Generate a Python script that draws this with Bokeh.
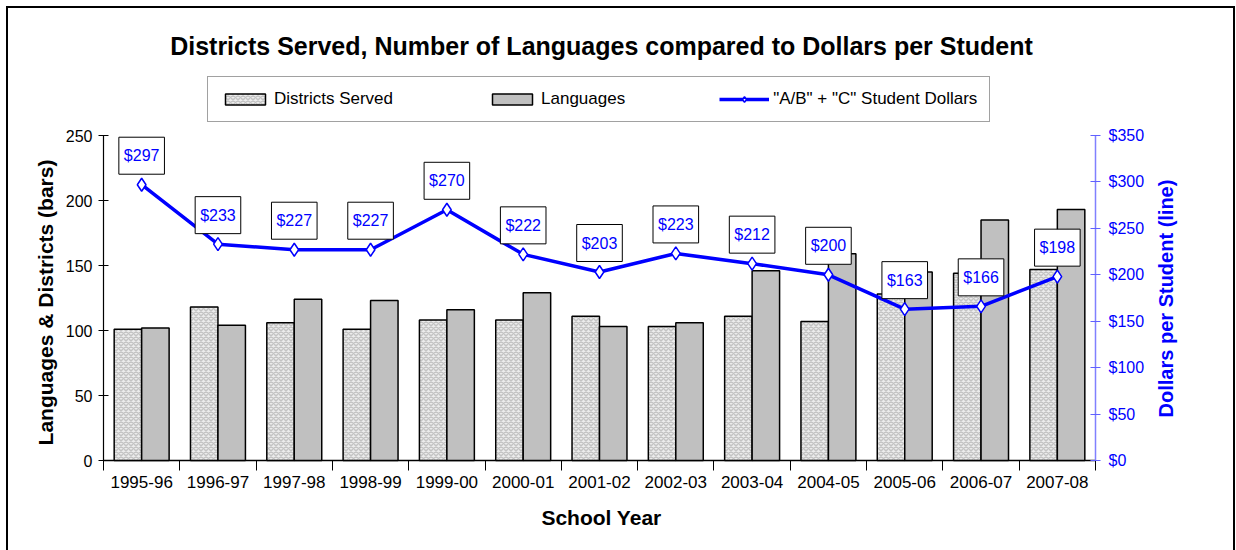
import math
import numpy as np
from bokeh.plotting import figure
from bokeh.models import (Range1d, LinearAxis, FixedTicker, ColumnDataSource, Legend,
                          LegendItem, Label, NumeralTickFormatter)
from bokeh.transform import dodge
from bokeh.embed import file_html
from bokeh.resources import INLINE

years = ["1995-96", "1996-97", "1997-98", "1998-99", "1999-00", "2000-01", "2001-02",
         "2002-03", "2003-04", "2004-05", "2005-06", "2006-07", "2007-08"]
districts = [101, 118, 106, 101, 108, 108, 111, 103, 111, 107, 128, 144, 147]
languages = [102, 104, 124, 123, 116, 129, 103, 106, 146, 159, 145, 185, 193]
dollars = [297, 233, 227, 227, 270, 222, 203, 223, 212, 200, 163, 166, 198]

left_ticks = [0, 50, 100, 150, 200, 250]
right_ticks = [0, 50, 100, 150, 200, 250, 300, 350]

FONT = "Liberation Sans"
BLUE = "#0000ff"
EM = "\u2003"

# geometry (pixels): the frame runs from the canvas top down to a little below
# the zero line and past the right value axis; the value axes occupy AXIS_PX
TOP_PX = 452      # from zero line to frame top
PAD_PX = 10       # frame below the zero line
AXIS_PX = 325
FRAME_W = 1080
AXIS_W = 992

n = len(years)
xpos = np.arange(n)
src = ColumnDataSource(dict(x=xpos, districts=districts, languages=languages, dollars=dollars))

p = figure(frame_width=FRAME_W, frame_height=TOP_PX + PAD_PX,
           x_range=Range1d(-0.5, -0.5 + n * FRAME_W / AXIS_W),
           y_range=Range1d(-left_ticks[-1] * PAD_PX / AXIS_PX, left_ticks[-1] * TOP_PX / AXIS_PX),
           output_backend="svg", toolbar_location=None,
           x_axis_location=None, y_axis_location=None,
           min_border_left=95, min_border_right=50, min_border_top=0, min_border_bottom=80,
           background_fill_color="white", border_fill_color="white", outline_line_color=None)
p.styles = {"border": "2px solid black", "border-bottom": "none",
            "margin-left": "6px", "margin-top": "6px"}
p.xgrid.visible = False
p.ygrid.visible = False
p.extra_y_ranges = {"dollars": Range1d(-right_ticks[-1] * PAD_PX / AXIS_PX,
                                       right_ticks[-1] * TOP_PX / AXIS_PX)}

# left axis (label padded with trailing em spaces so that it centres on the value axis part)
yl = LinearAxis(ticker=FixedTicker(ticks=left_ticks),
                axis_label="Languages & Districts (bars)" + EM * 6,
                bounds=(left_ticks[0], left_ticks[-1]))
yl.axis_line_color = "black"
yl.axis_line_width = 1.2
yl.major_tick_in = 5
yl.major_tick_out = 5
yl.major_tick_line_color = "black"
yl.minor_tick_line_color = None
yl.major_label_standoff = 6
yl.major_label_text_font = FONT
yl.major_label_text_font_size = "16px"
yl.major_label_text_color = "black"
yl.axis_label_text_font = FONT
yl.axis_label_text_font_style = "bold"
yl.axis_label_text_font_size = "21px"
yl.axis_label_text_color = "black"
yl.axis_label_standoff = 6
p.add_layout(yl, "left")

# right axis, pinned at the right edge of the last category
yr = LinearAxis(y_range_name="dollars", ticker=FixedTicker(ticks=right_ticks),
                formatter=NumeralTickFormatter(format="$0"),
                bounds=(right_ticks[0], right_ticks[-1]), fixed_location=n - 0.5)
yr.axis_line_color = "#8080ff"
yr.axis_line_width = 1.5
yr.major_tick_in = 5
yr.major_tick_out = 5
yr.major_tick_line_color = "#6060ff"
yr.minor_tick_line_color = None
yr.major_label_standoff = 8
yr.major_label_text_font = FONT
yr.major_label_text_font_size = "16px"
yr.major_label_text_color = BLUE
p.add_layout(yr, "right")

# right axis title, reading bottom-to-top
p.add_layout(Label(x=1062, y=172, x_units="screen", y_units="screen", angle=math.pi / 2,
                   text="Dollars per Student (line)", text_align="center", text_baseline="middle",
                   text_font=FONT, text_font_style="bold", text_font_size="20px", text_color=BLUE))

# bottom axis: labels at category centers, ticks at category boundaries
bounds = [i - 0.5 for i in range(n + 1)]
xa = LinearAxis(ticker=FixedTicker(ticks=list(range(n)), minor_ticks=bounds),
                major_label_overrides={i: y for i, y in enumerate(years)},
                axis_label="School Year" + EM * 4, bounds=(-0.5, n - 0.5))
xa.axis_line_color = None
xa.major_tick_in = 0
xa.major_tick_out = 0
xa.major_tick_line_color = None
xa.minor_tick_in = PAD_PX
xa.minor_tick_out = 0
xa.minor_tick_line_color = "black"
xa.major_label_standoff = 5
xa.major_label_text_font = FONT
xa.major_label_text_font_size = "17px"
xa.major_label_text_color = "black"
xa.axis_label_text_font = FONT
xa.axis_label_text_font_style = "bold"
xa.axis_label_text_font_size = "21px"
xa.axis_label_text_color = "black"
xa.axis_label_standoff = 15
p.add_layout(xa, "below")

# zero baseline across the categories
p.segment(x0=[-0.5], x1=[n - 0.5], y0=[0], y1=[0], line_color="black", line_width=1.5)

# bars
rd = p.vbar(x=dodge("x", -0.18), top="districts", width=0.36, source=src,
            fill_color="#ececec", hatch_pattern="diagonal_cross", hatch_color="#c4c4c4",
            hatch_scale=5, hatch_weight=1.5, line_color="black", line_width=1.5)
rl = p.vbar(x=dodge("x", 0.18), top="languages", width=0.36, source=src,
            fill_color="#c0c0c0", line_color="black", line_width=1.5)

# line
ln = p.line(x="x", y="dollars", source=src, y_range_name="dollars", line_color=BLUE, line_width=3.5)
sc = p.scatter(x="x", y="dollars", source=src, y_range_name="dollars", marker="diamond", size=13,
               fill_color="white", line_color=BLUE, line_width=1.5)

# value labels
for xi, d in zip(xpos, dollars):
    p.add_layout(Label(x=int(xi), y=d, y_range_name="dollars", text=f"${d}", y_offset=29,
                       text_align="center", text_baseline="middle", text_color=BLUE,
                       text_font=FONT, text_font_size="16px",
                       background_fill_color="white", border_line_color="black", border_line_width=1,
                       padding={"left": 5, "right": 5, "top": 10, "bottom": 10}))

# title (inside the tall frame, above the value axes)
p.add_layout(Label(x=498, y=425, x_units="screen", y_units="screen",
                   text="Districts Served, Number of Languages compared to Dollars per Student",
                   text_align="center", text_baseline="middle", text_font=FONT,
                   text_font_style="bold", text_font_size="25px", text_color="black"))

legend = Legend(items=[LegendItem(label="Districts Served", renderers=[rd]),
                       LegendItem(label="Languages", renderers=[rl]),
                       LegendItem(label='"A/B" + "C" Student Dollars', renderers=[ln, sc])],
                orientation="horizontal", location=(104, 348), padding=12, spacing=94, margin=0,
                glyph_width=50, glyph_height=14, label_standoff=4,
                label_text_font=FONT, label_text_font_size="17px", label_text_color="black",
                border_line_color="#444444", border_line_width=1.5, background_fill_color="white",
                background_fill_alpha=1.0)
p.add_layout(legend, "center")

open("out.html", "w").write(file_html(p, INLINE))
